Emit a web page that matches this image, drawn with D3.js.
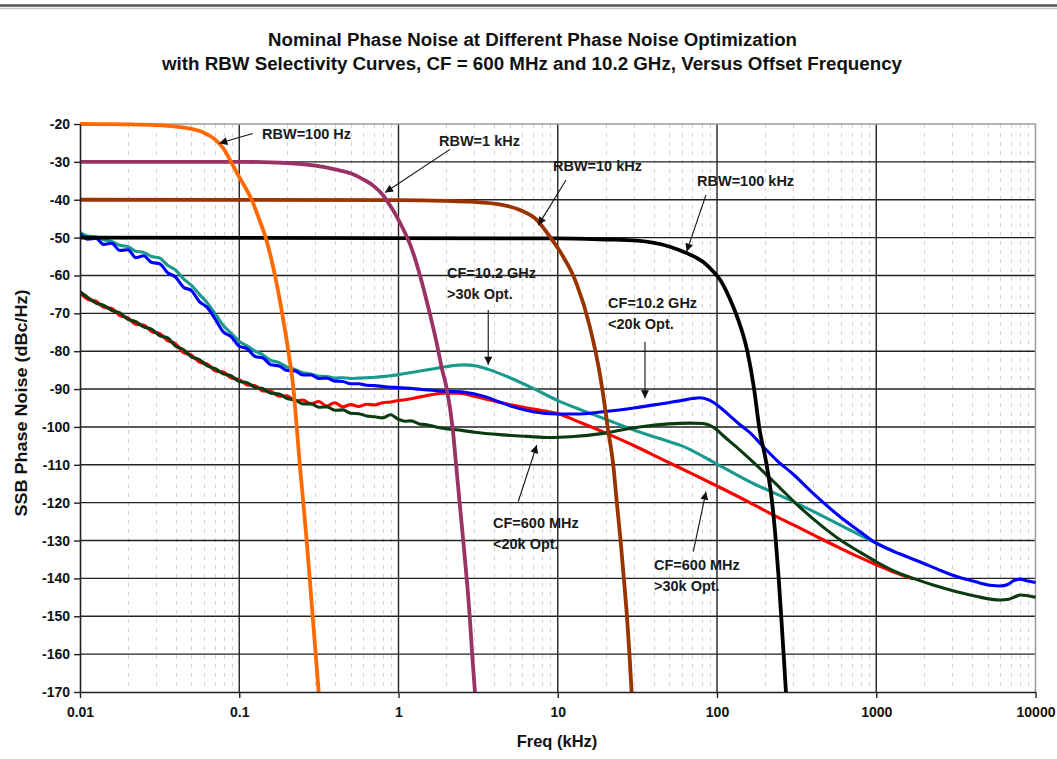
<!DOCTYPE html>
<html>
<head>
<meta charset="utf-8">
<script src="https://cdn.jsdelivr.net/npm/d3@7"></script>
<style>
  html, body { margin:0; padding:0; background:#fff; }
  svg { display:block; font-family:'Liberation Sans', Arial, Helvetica, sans-serif; }
</style>
</head>
<body>
<svg id="chart" width="1057" height="759"></svg>
<script>
// ---------------- DATA ----------------
const titleLines = [
  "Nominal Phase Noise at Different Phase Noise Optimization",
  "with RBW Selectivity Curves, CF = 600 MHz and 10.2 GHz, Versus Offset Frequency"
];
const xLabel = "Freq (kHz)";
const yLabel = "SSB Phase Noise (dBc/Hz)";

const xTicks = [0.01, 0.1, 1, 10, 100, 1000, 10000];
const xTickLabels = ["0.01", "0.1", "1", "10", "100", "1000", "10000"];
const yTicks = [-20,-30,-40,-50,-60,-70,-80,-90,-100,-110,-120,-130,-140,-150,-160,-170];
const yTickLabels = ["-20","-30","-40","-50","-60","-70","-80","-90","-100","-110","-120","-130","-140","-150","-160","-170"];

// common low-offset frequency grid (kHz) for the noisy measured portion
const lowFreq = [0.01,0.0112,0.0126,0.0141,0.0158,0.0178,0.02,0.0224,0.0251,0.0282,
  0.0316,0.0355,0.0398,0.0447,0.0501,0.0562,0.0631,0.0708,0.0794,0.0891,
  0.1,0.112,0.126,0.141,0.158,0.178,0.2,0.224,0.251,0.282,
  0.316,0.355,0.398,0.447,0.501,0.562,0.631,0.708,0.794,0.891,1.0];

// CF=10.2 GHz, <20k Opt. (blue)
const blueLow = [-49.0,-50.4,-50.2,-51.8,-51.5,-53.4,-53.2,-55.3,-54.8,-56.6,
  -56.9,-59.3,-60.4,-63.1,-64.0,-66.9,-68.5,-71.6,-74.9,-76.2,
  -78.7,-79.3,-81.4,-81.8,-83.6,-83.9,-85.1,-85.2,-86.3,-86.3,
  -87.2,-87.1,-87.9,-88.0,-88.6,-88.6,-89.0,-89.1,-89.3,-89.5,-89.6];
const blueHigh = [[1.4,-90.1],[1.8,-90.5],[2.55,-90.8],[3.5,-92.0],[4.3,-93.4],[5.26,-94.7],[7,-96.0],[9.85,-96.6],
  [13,-96.6],[19.3,-96.0],[30,-95.0],[46,-93.8],[58.6,-93.1],[70,-92.5],[78,-92.3],[88,-92.8],[100,-94.2],
  [120,-97.0],[140,-99.5],[161,-101.5],[195,-105.2],[240,-109.0],[301,-112.5],[400,-117.5],[592,-123.7],
  [800,-127.8],[1000,-130.7],[1400,-133.5],[1974,-136.0],[2500,-137.8],[3200,-139.5],[4200,-140.9],
  [5200,-141.8],[6000,-142.0],[6700,-141.6],[7300,-140.6],[8000,-140.2],[8800,-140.6],[10000,-141.1]];

// CF=10.2 GHz, >30k Opt. (teal)
const tealLow = [-48.6,-49.6,-49.8,-50.6,-51.0,-52.0,-52.4,-53.6,-53.9,-55.0,
  -55.4,-57.3,-58.6,-60.9,-62.6,-65.0,-67.3,-70.2,-73.2,-75.3,
  -77.4,-78.6,-80.0,-81.0,-82.4,-83.0,-84.2,-84.8,-85.7,-86.0,
  -86.6,-86.7,-87.1,-87.0,-87.2,-87.1,-87.0,-86.9,-86.7,-86.5,-86.2];
const tealHigh = [[1.26,-85.5],[1.74,-84.5],[2.2,-83.8],[2.55,-83.6],[3.0,-83.8],[3.66,-84.8],[5,-87.0],
  [7,-89.8],[9.85,-92.9],[14,-95.5],[19.3,-97.7],[30,-100.8],[46,-103.4],[58.6,-104.8],[100,-109.8],
  [161,-114.5],[301,-119.7],[621,-126.3],[1000,-130.7],[1300,-132.9]];

// CF=600 MHz, >30k Opt. (red)
const redLow = [-64.6,-66.3,-66.8,-68.4,-68.7,-70.6,-71.2,-72.9,-73.1,-74.8,
  -75.3,-77.2,-78.0,-80.4,-81.0,-82.9,-83.4,-85.2,-85.5,-87.1,
  -87.5,-88.9,-89.1,-90.5,-90.6,-91.9,-91.8,-93.1,-92.9,-93.9,
  -93.3,-94.5,-93.6,-94.7,-94.1,-94.6,-94.0,-94.2,-93.6,-93.4,-93.0];
const redHigh = [[1.07,-92.9],[1.4,-92.0],[1.91,-91.1],[2.4,-91.1],[2.81,-91.6],[3.5,-92.6],[4.5,-93.7],
  [5.26,-94.3],[7,-95.3],[9.85,-96.4],[14,-98.9],[21.3,-102.1],[30,-104.9],[46,-108.7],[70,-112.4],
  [100,-115.6],[161,-120.0],[215,-122.8],[300,-125.8],[420,-128.9],[592,-132.0],[800,-134.6],
  [1000,-136.4],[1300,-138.4],[1710,-140.2]];

// CF=600 MHz, <20k Opt. (dark green)
const greenLow = [-64.3,-65.8,-67.3,-67.9,-69.2,-69.9,-71.6,-72.2,-73.6,-74.2,
  -75.9,-76.5,-78.6,-79.6,-81.5,-82.2,-83.9,-84.6,-86.0,-86.5,
  -88.0,-88.3,-89.6,-89.9,-91.1,-91.3,-92.5,-92.9,-93.9,-93.9,
  -94.8,-94.7,-95.6,-95.5,-96.4,-96.5,-97.1,-97.3,-97.6,-96.8,-98.0];
const greenHigh = [[1.1,-98.5],[1.2,-98.4],[1.35,-99.2],[1.5,-99.4],[1.75,-100.1],[2.1,-100.6],[2.5,-100.9],
  [3.0,-101.4],[4.55,-102.1],[6.5,-102.5],[8.9,-102.8],[12,-102.6],[19.3,-101.7],[26,-100.7],
  [34.4,-99.9],[50,-99.2],[67.6,-99.0],[81.6,-99.1],[92,-99.8],[100,-100.8],[110,-102.4],[130,-105.0],
  [161,-108.5],[195,-111.8],[250,-116.2],[318,-120.5],[450,-126.0],[592,-129.8],[800,-133.2],
  [1000,-135.6],[1300,-138.1],[1710,-140.0],[2300,-141.8],[3200,-143.5],[4300,-144.8],[5985,-145.7],
  [6800,-145.5],[7500,-144.8],[8000,-144.4],[8800,-144.5],[10000,-145.0]];

// RBW selectivity curves
const rbw100Hz = [[0.01,-20.0],[0.02,-20.1],[0.03,-20.3],[0.04,-20.7],[0.05,-21.3],[0.06,-22.3],[0.07,-24.0],
  [0.08,-26.6],[0.0888,-30.0],[0.1,-34.0],[0.11,-37.0],[0.1197,-40.0],[0.133,-45.0],[0.1466,-50.0],
  [0.1676,-60.0],[0.186,-70.0],[0.2034,-80.0],[0.219,-90.0],[0.2295,-100.0],[0.24,-110.0],
  [0.2525,-120.0],[0.265,-130.0],[0.277,-140.0],[0.289,-150.0],[0.302,-160.0],[0.3155,-170.0]];
const rbw1kHz = [[0.01,-30.0],[0.1,-30.0],[0.2,-30.3],[0.3,-31.0],[0.4,-32.0],[0.5,-33.0],[0.6,-34.6],
  [0.7,-36.4],[0.8,-38.8],[0.9,-42.0],[1.0,-45.3],[1.1,-48.8],[1.2,-52.5],[1.365,-60.0],[1.55,-69.0],
  [1.74,-78.0],[1.87,-84.5],[2.0,-89.5],[2.19,-100.5],[2.3,-110.0],[2.42,-120.0],[2.55,-130.0],
  [2.68,-140.0],[2.8,-150.0],[2.9,-160.0],[3.02,-170.0]];
const rbw10kHz = [[0.01,-40.0],[1,-40.1],[2,-40.3],[2.81,-40.5],[4.55,-41.4],[5.8,-42.7],[7.38,-45.3],
  [8.9,-49.7],[10.8,-55.0],[12.5,-60.0],[13.1,-62.1],[15.9,-73.5],[18.5,-86.7],[19.9,-95.5],[20.4,-99.0],
  [22.3,-110.0],[23.5,-120.0],[24.8,-130.0],[26,-140.0],[27.2,-150.0],[28.2,-160.0],[29.1,-170.0]];
const rbw100kHz = [[0.01,-50.0],[10,-50.2],[20,-50.5],[31.4,-50.8],[50.6,-52.4],[64.5,-54.1],[81.6,-56.4],
  [94,-58.8],[104,-61.0],[120,-66.0],[134,-71.0],[155,-80.0],[171,-90.0],[184,-100.0],[205,-110.0],
  [222,-120.0],[234,-130.0],[244,-140.0],[253,-150.0],[262,-160.0],[271,-170.0]];

const rbwNames = ["RBW=100 kHz","RBW=10 kHz","RBW=1 kHz","RBW=100 Hz"];
const rbwSeries = [rbw100kHz, rbw10kHz, rbw1kHz, rbw100Hz];
const rbwColors = ["#000000", "#993300", "#993366", "#ff6a00"];

const noiseNames = ["CF=10.2 GHz >30k Opt.", "CF=600 MHz >30k Opt.", "CF=10.2 GHz <20k Opt.", "CF=600 MHz <20k Opt."];
const noiseColors = ["#1a9a8e", "#ff0000", "#0000ff", "#0a3a10"];

// annotations: text anchor & arrow (from -> to) in data units (kHz, dBc/Hz)
const annotations = [
  {lines:["RBW=100 Hz"], at:[0.139,-24.0], from:[0.1215,-22.5], to:[0.0749,-25.1]},
  {lines:["RBW=1 kHz"], at:[1.796,-25.8], from:[2.106,-26.7], to:[0.823,-38.1]},
  {lines:["RBW=10 kHz"], at:[9.33,-32.4], from:[11.27,-34.8], to:[7.55,-46.7]},
  {lines:["RBW=100 kHz"], at:[74.9,-36.4], from:[85.3,-38.7], to:[64.5,-53.7]},
  {lines:["CF=10.2 GHz", ">30k Opt."], at:[2.016,-60.7], from:[3.66,-69.1], to:[3.66,-83.6]},
  {lines:["CF=10.2 GHz", "<20k Opt."], at:[20.7,-68.6], from:[35.3,-77.5], to:[35.3,-92.4]},
  {lines:["CF=600 MHz", "<20k Opt."], at:[3.92,-126.7], from:[5.65,-119.7], to:[7.38,-104.8]},
  {lines:["CF=600 MHz", ">30k Opt."], at:[40.2,-137.8], from:[71,-132.9], to:[85.3,-117.1]}
];

// ---------------- DRAW ----------------
const svg = d3.select("#chart");
const W = 1057, H = 759;
const plot = {left:80, right:1035.5, top:124, bottom:692};

const x = d3.scaleLog().domain([0.01, 10000]).range([plot.left, plot.right]);
const y = d3.scaleLinear().domain([-170, -20]).range([plot.bottom, plot.top]);

// page top rule
svg.append("line").attr("x1",0).attr("x2",W).attr("y1",5.5).attr("y2",5.5)
  .attr("stroke","#555").attr("stroke-width",2.5);
svg.append("line").attr("x1",0).attr("x2",W).attr("y1",8.5).attr("y2",8.5)
  .attr("stroke","#c8c8c8").attr("stroke-width",1.5);

// title
const titleG = svg.append("g").attr("font-weight","bold").attr("fill","#111").attr("text-anchor","middle");
titleG.append("text").attr("x",532.5).attr("y",45.5).attr("font-size",17.5)
  .attr("textLength",529).attr("lengthAdjust","spacingAndGlyphs").text(titleLines[0]);
titleG.append("text").attr("x",532).attr("y",70).attr("font-size",17.5)
  .attr("textLength",740).attr("lengthAdjust","spacingAndGlyphs").text(titleLines[1]);

// minor vertical grid (dashed)
const minorTicks = [];
for (let d = 0.01; d < 10000; d *= 10) {
  for (let m = 2; m <= 9; m++) minorTicks.push(+(d*m).toPrecision(3));
}
svg.append("g").selectAll("line").data(minorTicks).join("line")
  .attr("x1", d => Math.round(x(d))+0.5).attr("x2", d => Math.round(x(d))+0.5)
  .attr("y1", plot.top).attr("y2", plot.bottom)
  .attr("stroke","#d2d2d2").attr("stroke-width",1).attr("stroke-dasharray","4,5");

// major grid
const gridG = svg.append("g");
gridG.selectAll("line.h").data(yTicks.filter(v => v !== -20 && v !== -170)).join("line")
  .attr("class","h")
  .attr("x1", plot.left).attr("x2", plot.right)
  .attr("y1", d => y(d)).attr("y2", d => y(d))
  .attr("stroke","#222").attr("stroke-width",1.4);
gridG.selectAll("line.v").data(xTicks.filter(v => v !== 0.01 && v !== 10000)).join("line")
  .attr("class","v")
  .attr("x1", d => x(d)).attr("x2", d => x(d))
  .attr("y1", plot.top).attr("y2", plot.bottom)
  .attr("stroke","#222").attr("stroke-width",1.4);
// top & right frame (grey)
gridG.append("line").attr("x1",plot.left).attr("x2",plot.right).attr("y1",plot.top).attr("y2",plot.top)
  .attr("stroke","#9a9a9a").attr("stroke-width",1.5);
gridG.append("line").attr("x1",plot.right).attr("x2",plot.right).attr("y1",plot.top).attr("y2",plot.bottom)
  .attr("stroke","#9a9a9a").attr("stroke-width",1.5);

// clip
svg.append("defs").append("clipPath").attr("id","plotClip")
  .append("rect").attr("x",plot.left).attr("y",plot.top-3)
  .attr("width",plot.right-plot.left+1).attr("height",plot.bottom-plot.top+3);

const line = d3.line().x(d => x(d[0])).y(d => y(d[1])).curve(d3.curveMonotoneX);

const joinLow = (vals, high) => lowFreq.map((f,i) => [f, vals[i]]).concat(high);
const noiseSeries = [
  joinLow(tealLow, tealHigh),
  joinLow(redLow, redHigh),
  joinLow(blueLow, blueHigh),
  joinLow(greenLow, greenHigh)
];

const curvesG = svg.append("g").attr("clip-path","url(#plotClip)");
curvesG.selectAll("path.noise").data(noiseSeries).join("path")
  .attr("class","noise")
  .attr("d", line)
  .attr("fill","none")
  .attr("stroke", (d,i) => noiseColors[i])
  .attr("stroke-width",3.1)
  .attr("stroke-linejoin","round");

curvesG.selectAll("path.rbw").data(rbwSeries).join("path")
  .attr("class","rbw")
  .attr("d", line)
  .attr("fill","none")
  .attr("stroke", (d,i) => rbwColors[i])
  .attr("stroke-width",3.8)
  .attr("stroke-linejoin","round");

// arrow marker
svg.select("defs").append("marker").attr("id","arrow")
  .attr("viewBox","0 0 10 10").attr("refX",10).attr("refY",5)
  .attr("markerWidth",9).attr("markerHeight",8).attr("markerUnits","userSpaceOnUse")
  .attr("orient","auto")
  .append("path").attr("d","M0,0 L10,5 L0,10 z").attr("fill","#111");

// annotations
const annG = svg.append("g");
annotations.forEach(a => {
  annG.append("line")
    .attr("x1", x(a.from[0])).attr("y1", y(a.from[1]))
    .attr("x2", x(a.to[0])).attr("y2", y(a.to[1]))
    .attr("stroke","#111").attr("stroke-width",1.1)
    .attr("marker-end","url(#arrow)");
  const t = annG.append("text").attr("x", x(a.at[0])).attr("y", y(a.at[1]))
    .attr("font-size",14.5).attr("font-weight","bold").attr("fill","#1a1a1a");
  a.lines.forEach((l,i) => {
    t.append("tspan").attr("x", x(a.at[0])).attr("dy", i === 0 ? 0 : 20.5).text(l);
  });
});

// axes
const xAxis = d3.axisBottom(x).tickValues(xTicks)
  .tickFormat((d,i) => xTickLabels[i]).tickSize(6).tickSizeOuter(0).tickPadding(9);
const gx = svg.append("g").attr("transform",`translate(0,${plot.bottom})`).call(xAxis);
gx.select(".domain").attr("stroke","#222").attr("stroke-width",1.6);
gx.selectAll(".tick line").attr("stroke","#222").attr("stroke-width",1.4);
gx.selectAll(".tick text").attr("font-size",14).attr("font-weight","bold").attr("fill","#111")
  .attr("font-family","'Liberation Sans', Arial, sans-serif");

const yAxis = d3.axisLeft(y).tickValues(yTicks)
  .tickFormat((d,i) => yTickLabels[i]).tickSize(6).tickSizeOuter(0).tickPadding(4);
const gy = svg.append("g").attr("transform",`translate(${plot.left},0)`).call(yAxis);
gy.select(".domain").attr("stroke","#222").attr("stroke-width",1.6);
gy.selectAll(".tick line").attr("stroke","#222").attr("stroke-width",1.4);
gy.selectAll(".tick text").attr("font-size",14).attr("font-weight","bold").attr("fill","#111")
  .attr("font-family","'Liberation Sans', Arial, sans-serif");

// axis titles
svg.append("text").attr("x",557).attr("y",747).attr("text-anchor","middle")
  .attr("font-size",16.5).attr("font-weight","bold").attr("fill","#111").text(xLabel);
svg.append("text").attr("transform","translate(27,403) rotate(-90)").attr("text-anchor","middle")
  .attr("font-size",17).attr("font-weight","bold").attr("fill","#111")
  .attr("textLength",227).attr("lengthAdjust","spacingAndGlyphs").text(yLabel);
</script>
</body>
</html>
